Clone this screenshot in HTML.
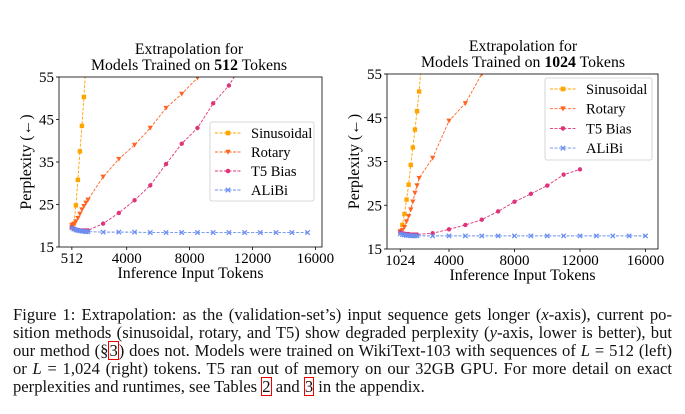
<!DOCTYPE html>
<html><head><meta charset="utf-8">
<style>
body{margin:0;background:#fff;width:685px;height:414px;overflow:hidden;font-family:"Liberation Serif",serif;}
#cap{position:absolute;left:13px;top:306px;width:659px;font-size:16.6px;line-height:17.9px;color:#111;word-spacing:-1.6px;}
#cap div{text-align:justify;text-align-last:justify;white-space:nowrap;}
#cap div.last{text-align-last:left;word-spacing:0;}
.ref{outline:1px solid #e00;outline-offset:-1px;padding:0 1px;}
svg text{font-family:"Liberation Serif",serif;}
</style></head><body>
<svg id="chart" width="685" height="300" style="position:absolute;left:0;top:0"></svg>
<div id="cap">
<div>Figure 1: Extrapolation: as the (validation-set’s) input sequence gets longer (<i>x</i>-axis), current po-</div>
<div>sition methods (sinusoidal, rotary, and T5) show degraded perplexity (<i>y</i>-axis, lower is better), but</div>
<div>our method (§<span class="ref">3</span>) does not. Models were trained on WikiText-103 with sequences of <i>L</i> = 512 (left)</div>
<div>or <i>L</i> = 1,024 (right) tokens. T5 ran out of memory on our 32GB GPU. For more detail on exact</div>
<div class="last">perplexities and runtimes, see Tables <span class="ref">2</span> and <span class="ref">3</span> in the appendix.</div>
</div>
<script>
// Left chart (trained on 512)
const L_sinX=[512,640,768,896,1024,1152,1280,1408];
const L_sinY=[19.8,20.5,24.8,30.8,37.5,43.5,50.3,58];
const L_rotX=[512,640,768,896,1024,1152,1280,1408,1536,2500,3500,4500,5500,6500,7500,8500,9500];
const L_rotY=[20.2,20.4,21.0,21.8,22.8,23.8,24.6,25.4,26.1,31.5,35.7,39.0,43.0,47.7,51.0,54.8,60];
const L_t5X=[512,640,768,896,1024,1152,1280,1408,1536,2500,3500,4500,5500,6500,7500,8500,9500,10500,11500];
const L_t5Y=[19.6,19.3,19.1,19.0,18.9,18.9,18.9,18.9,18.9,20.5,23.0,26.0,29.5,34.5,39.3,43.0,48.8,53.0,59];
const L_aliX=[512,640,768,896,1024,1152,1280,1408,1536,2500,3500,4500,5500,6500,7500,8500,9500,10500,11500,12500,13500,14500,15500];
const L_aliY=[19.5,19.2,19.0,18.9,18.8,18.7,18.7,18.6,18.6,18.5,18.5,18.5,18.4,18.4,18.4,18.4,18.4,18.4,18.4,18.4,18.4,18.4,18.4];
// Right chart (trained on 1024)
const R_sinX=[1024,1152,1280,1408,1536,1664,1792,1920,2048,2176,2304];
const R_sinY=[19.0,20.5,23.0,26.3,29.7,34.2,38.2,42.3,46.5,51.0,57];
const R_rotX=[1024,1152,1280,1408,1536,1664,1792,1920,2048,2176,3000,4000,5000,6000,7000];
const R_rotY=[19.0,19.3,20.0,21.3,22.5,24.0,25.8,27.8,29.5,31.2,35.8,44.3,48.3,55.0,62];
const R_t5X=[1024,1152,1280,1408,1536,1664,1792,1920,2048,3000,4000,5000,6000,7000,8000,9000,10000,11000,12000];
const R_t5Y=[18.8,18.6,18.5,18.4,18.4,18.3,18.3,18.3,18.3,18.6,19.5,20.5,21.7,23.6,25.8,27.6,29.5,32.0,33.2];
const R_aliX=[1024,1152,1280,1408,1536,1664,1792,1920,2048,3000,4000,5000,6000,7000,8000,9000,10000,11000,12000,13000,14000,15000,16000];
const R_aliY=[18.5,18.3,18.2,18.1,18.1,18.0,18.0,18.0,18.0,18.0,18.0,18.0,18.0,18.0,18.0,18.0,18.0,18.0,18.0,18.0,18.0,18.0,18.0];
const L_xTicks=[512,4000,8000,12000,16000];
const R_xTicks=[1024,4000,8000,12000,16000];
const yTicks=[15,25,35,45,55];
const seriesNames=["Sinusoidal","Rotary","T5 Bias","ALiBi"];

const NS="http://www.w3.org/2000/svg";
const svg=document.getElementById('chart');
const COLORS=["#ffa500","#ff6422","#e0347a","#6a8ff0"];
const MARK=["square","tri","circle","x"];
function mk(tag,attrs,parent){const e=document.createElementNS(NS,tag);for(const k in attrs)e.setAttribute(k,attrs[k]);(parent||svg).appendChild(e);return e;}

function drawChart(cfg){
  const g=mk('g',{});
  
  
  const xs=v=>cfg.x0px+(v-cfg.x0v)*cfg.xk;
  const ys=v=>cfg.top+(55-v)*(cfg.bottom-cfg.top)/40;
  const cid='clip'+cfg.name;
  const cp=mk('clipPath',{id:cid},g);mk('rect',{x:cfg.left,y:cfg.top,width:cfg.right-cfg.left,height:cfg.bottom-cfg.top},cp);
  const plot=mk('g',{'clip-path':'url(#'+cid+')'},g);
  cfg.series.forEach((s,i)=>{
    const sg=mk('g',{},plot);
    
    
    const pts=s[0].map((x,j)=>xs(x).toFixed(2)+','+ys(s[1][j]).toFixed(2)).join(' ');
    mk('polyline',{points:pts,fill:'none',stroke:COLORS[i],'stroke-width':0.9,'stroke-dasharray':'3,1.5'},sg);
    s[0].forEach((x,j)=>{marker(sg,MARK[i],xs(x),ys(s[1][j]),COLORS[i],2.2);});
  });
  const frame=mk('rect',{x:cfg.left,y:cfg.top,width:cfg.right-cfg.left,height:cfg.bottom-cfg.top,fill:'none',stroke:'#000','stroke-width':0.8},g);
  
  
  cfg.xTicks.forEach(t=>{
    const x=xs(t);
    mk('line',{x1:x,x2:x,y1:cfg.bottom,y2:cfg.bottom+3,stroke:'#000','stroke-width':0.8},g);
    const tx=mk('text',{x:x,y:cfg.bottom+16,'text-anchor':'middle','font-size':15},g);tx.textContent=t;
    
    
  });
  yTicks.forEach(t=>{
    const y=ys(t);
    mk('line',{x1:cfg.left-3,x2:cfg.left,y1:y,y2:y,stroke:'#000','stroke-width':0.8},g);
    const tx=mk('text',{x:cfg.left-5,y:y+5,'text-anchor':'end','font-size':15},g);tx.textContent=t;
    
    
  });
  const xl=mk('text',{x:(cfg.left+cfg.right)/2,y:cfg.bottom+31,'text-anchor':'middle','font-size':15.8},g);xl.textContent='Inference Input Tokens';
  
  
  const yl=mk('text',{x:0,y:0,'text-anchor':'middle','font-size':15.8,transform:`translate(${cfg.left-28},${(cfg.top+cfg.bottom)/2}) rotate(-90)`},g);yl.textContent='Perplexity (←)';
  
  
  const t1=mk('text',{x:cfg.tcx,y:cfg.top-23,'text-anchor':'middle','font-size':15.8},g);t1.textContent='Extrapolation for';
  
  
  const t2=mk('text',{x:cfg.tcx,y:cfg.top-7,'text-anchor':'middle','font-size':15.8},g);
  t2.innerHTML='Models Trained on <tspan font-weight="bold">'+cfg.L+'</tspan> Tokens';
  
  
  // legend
  const lg=mk('g',{},g);
  
  
  mk('rect',{x:cfg.lx,y:cfg.ly,width:cfg.lw,height:cfg.lh,rx:2,fill:'#fff','fill-opacity':0.85,stroke:'#ccc','stroke-width':0.8},lg);
  seriesNames.forEach((n,i)=>{
    const y=cfg.ly+11+i*cfg.lstep;
    const e=mk('g',{},lg);
    
    
    mk('line',{x1:cfg.lx+5,x2:cfg.lx+31,y1:y,y2:y,stroke:COLORS[i],'stroke-width':0.9,'stroke-dasharray':'3,1.5'},e);
    marker(e,MARK[i],cfg.lx+18,y,COLORS[i],2.3);
    const t=mk('text',{x:cfg.lx+41,y:y+5,'font-size':14.5},e);t.textContent=n;
  });
}
function marker(p,type,x,y,c,r){
  if(type==='square')mk('rect',{x:x-r,y:y-r,width:2*r,height:2*r,fill:c},p);
  else if(type==='tri')mk('polygon',{points:`${x-r*1.2},${y-r} ${x+r*1.2},${y-r} ${x},${y+r*1.2}`,fill:c},p);
  else if(type==='circle')mk('circle',{cx:x,cy:y,r:r,fill:c},p);
  else{mk('path',{d:`M${x-r},${y-r}L${x+r},${y+r}M${x-r},${y+r}L${x+r},${y-r}`,stroke:c,'stroke-width':1.3},p);}
}
drawChart({name:'left-chart',L:512,left:59,right:322,top:77,bottom:247,x0px:63.8,x0v:0,xk:62.9/4000,xTicks:L_xTicks,tcx:189,
  series:[[L_sinX,L_sinY],[L_rotX,L_rotY],[L_t5X,L_t5Y],[L_aliX,L_aliY]],lx:210,ly:122,lw:104,lh:79,lstep:19});
drawChart({name:'right-chart',L:1024,left:387,right:658,top:74,bottom:249,x0px:383.5,x0v:0,xk:65.5/4000,xTicks:R_xTicks,tcx:523,
  series:[[R_sinX,R_sinY],[R_rotX,R_rotY],[R_t5X,R_t5Y],[R_aliX,R_aliY]],lx:545,ly:78,lw:107,lh:82,lstep:19.7});
</script>
</body></html>
